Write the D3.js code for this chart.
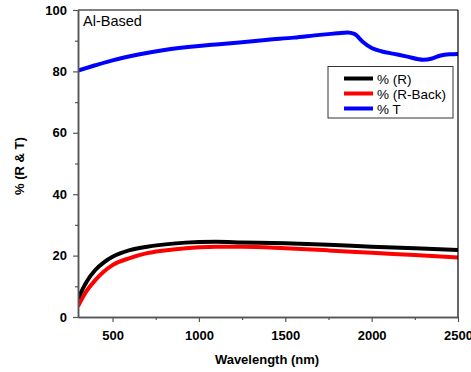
<!DOCTYPE html>
<html><head><meta charset="utf-8">
<script src="https://cdn.jsdelivr.net/npm/d3@7"></script>
<style>
html,body{margin:0;padding:0;background:#fff;}
svg{display:block;font-family:"Liberation Sans",Arial,sans-serif;}
</style></head>
<body>
<svg id="chart" width="471" height="372"></svg>
<script>
const wlT = [300, 400, 500, 650, 800, 1000, 1100, 1250, 1400, 1550, 1700, 1800, 1860, 1900, 1950, 2000, 2060, 2130, 2200, 2300, 2350, 2400, 2450, 2500];
const valT = [80.3, 82.0, 83.6, 85.5, 87.0, 88.3, 88.8, 89.5, 90.3, 91.0, 91.9, 92.4, 92.7, 92.2, 89.6, 87.6, 86.5, 85.7, 84.9, 83.8, 84.2, 85.2, 85.6, 85.7];
const wlR = [300, 350, 400, 450, 500, 600, 700, 850, 1000, 1100, 1250, 1500, 1750, 2000, 2250, 2500];
const valR = [6.0, 11.5, 15.3, 17.8, 19.6, 21.8, 22.9, 23.9, 24.4, 24.5, 24.3, 24.0, 23.5, 22.9, 22.4, 21.8];
const valRBack = [3.5, 8.5, 12.0, 14.8, 16.9, 19.2, 20.8, 22.0, 22.7, 22.9, 22.9, 22.4, 21.7, 20.9, 20.2, 19.4];
const xTicks = [500, 1000, 1500, 2000, 2500];
const xMinor = [750, 1250, 1750, 2250];
const yTicks = [0, 20, 40, 60, 80, 100];
const yMinor = [10, 30, 50, 70, 90];
const seriesNames = ["% (R)", "% (R-Back)", "% T"];
const seriesColors = ["#000000", "#ff0000", "#0000ff"];

const svg = d3.select("#chart");
const L = 78, R = 458, T = 10, B = 317;
const x = d3.scaleLinear().domain([300, 2500]).range([L, R]);
const y = d3.scaleLinear().domain([0, 100]).range([B, T]);

const series = [
  {name: seriesNames[0], color: seriesColors[0], pts: wlR.map((w,i)=>[w, valR[i]])},
  {name: seriesNames[1], color: seriesColors[1], pts: wlR.map((w,i)=>[w, valRBack[i]])},
  {name: seriesNames[2], color: seriesColors[2], pts: wlT.map((w,i)=>[w, valT[i]])}
];

svg.append("clipPath").attr("id","clip").append("rect")
  .attr("x", L).attr("y", T).attr("width", R-L).attr("height", B-T);

const line = d3.line().x(d=>x(d[0])).y(d=>y(d[1])).curve(d3.curveMonotoneX);
[series[1], series[0], series[2]].forEach(s=>{
  svg.append("path").attr("d", line(s.pts)).attr("fill","none")
    .attr("stroke", s.color).attr("stroke-width", 4).attr("clip-path","url(#clip)");
});

svg.append("line").attr("x1", L).attr("x2", R).attr("y1", T).attr("y2", T).attr("stroke","#000").attr("stroke-width",1);
svg.append("line").attr("x1", R).attr("x2", R).attr("y1", T).attr("y2", B).attr("stroke","#000").attr("stroke-width",1.2);

const axColor = "#555";
const fmt = d3.format("d");
const xAxis = svg.append("g").attr("transform", `translate(0,${B})`)
  .call(d3.axisBottom(x).tickValues(xTicks).tickFormat(fmt).tickSize(5).tickSizeOuter(0).tickPadding(9));
const xAxisMinor = svg.append("g").attr("transform", `translate(0,${B})`)
  .call(d3.axisBottom(x).tickValues(xMinor).tickSize(3).tickSizeOuter(0).tickFormat(""));
const yAxis = svg.append("g").attr("transform", `translate(${L},0)`)
  .call(d3.axisLeft(y).tickValues(yTicks).tickFormat(fmt).tickSize(5).tickSizeOuter(0).tickPadding(6));
const yAxisMinor = svg.append("g").attr("transform", `translate(${L},0)`)
  .call(d3.axisLeft(y).tickValues(yMinor).tickSize(3).tickSizeOuter(0).tickFormat(""));
[xAxis, xAxisMinor, yAxis, yAxisMinor].forEach(g=>{
  g.selectAll("path.domain").attr("stroke", axColor).attr("stroke-width", 1.5);
  g.selectAll(".tick line").attr("stroke", axColor).attr("stroke-width", 1.2);
  g.selectAll("text").attr("fill","#000").attr("font-size", 13).attr("font-weight","bold")
    .attr("font-family","'Liberation Sans',Arial,sans-serif");
});

svg.append("text").attr("x", 267).attr("y", 364).attr("text-anchor","middle")
  .attr("font-size", 13).attr("font-weight","bold").text("Wavelength (nm)");
svg.append("text").attr("transform", `translate(24,166) rotate(-90)`).attr("text-anchor","middle")
  .attr("font-size", 13).attr("font-weight","bold").text("% (R & T)");
svg.append("text").attr("x", 83).attr("y", 26).attr("font-size", 14.5).text("Al-Based");

const lg = svg.append("g");
lg.append("rect").attr("x", 328).attr("y", 66.5).attr("width", 125).attr("height", 51.5)
  .attr("fill","#fff").attr("stroke","#333").attr("stroke-width",1);
series.forEach((s,i)=>{
  const yy = 78.5 + i*15;
  lg.append("line").attr("x1", 344).attr("x2", 373).attr("y1", yy).attr("y2", yy)
    .attr("stroke", s.color).attr("stroke-width", 4);
  lg.append("text").attr("x", 377).attr("y", yy+5).attr("font-size", 13.5).text(s.name);
});
</script>
</body></html>
